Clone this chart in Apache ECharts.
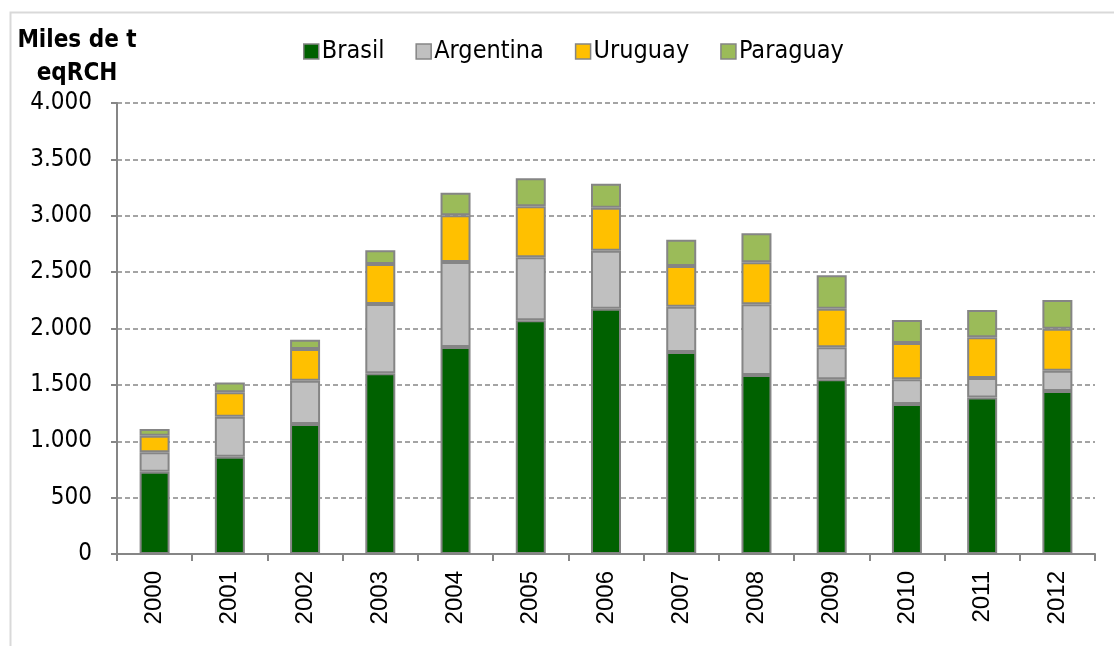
<!DOCTYPE html>
<html>
<head>
<meta charset="utf-8">
<script src="https://cdn.jsdelivr.net/npm/echarts@6/dist/echarts.min.js"></script>
<style>
  html, body { margin: 0; padding: 0; background: #fff; }
  #chart { width: 1114px; height: 646px; }
</style>
</head>
<body>
<div id="chart"></div>
<script>
// años
const years = ['2000', '2001', '2002', '2003', '2004', '2005', '2006', '2007', '2008', '2009', '2010', '2011', '2012']
// miles de t eqRCH por país
const brasil = [730, 863, 1153, 1603, 1836, 2073, 2176, 1792, 1588, 1549, 1330, 1387, 1446]
const argentina = [172, 355, 384, 614, 754, 558, 514, 402, 627, 284, 219, 174, 180]
const uruguay = [147, 216, 281, 355, 414, 453, 381, 360, 372, 343, 322, 361, 372]
const paraguay = [60, 86, 83, 121, 201, 248, 213, 234, 257, 296, 204, 242, 255]
const yTicks = [0, 500, 1000, 1500, 2000, 2500, 3000, 3500, 4000]

// colores
const gridColor = '#868686'
const edgeColor = '#858585'
const colors = { Brasil: '#006100', Argentina: '#c0c0c0', Uruguay: '#ffc000', Paraguay: '#9bbb59' }

const labelFont = '"DejaVu Sans Condensed", "DejaVu Sans", sans-serif'
const fmt = v => v >= 1000 ? Math.floor(v / 1000) + '.' + String(v % 1000).padStart(3, '0') : String(v)

const chart = echarts.init(document.getElementById('chart'))

function makeSeries(name, data) {
  return {
    name: name,
    type: 'bar',
    stack: 'total',
    barWidth: 30,
    data: data,
    itemStyle: { color: colors[name], borderColor: edgeColor, borderWidth: 2 },
    emphasis: { disabled: true }
  }
}

chart.setOption({
  animation: false,
  title: {
    text: 'Miles de t\neqRCH',
    left: 72,
    top: 19,
    textAlign: 'center',
    textStyle: {
      fontFamily: labelFont,
      fontWeight: 'bold',
      fontSize: 24,
      lineHeight: 33,
      color: '#000'
    }
  },
  legend: {
    left: 298,
    top: 34,
    itemWidth: 15,
    itemHeight: 15,
    itemGap: 31,
    icon: 'rect',
    itemStyle: { borderColor: edgeColor, borderWidth: 1.5 },
    textStyle: { fontFamily: labelFont, fontSize: 25, color: '#000', padding: [0, 0, 0, -2] },
    data: ['Brasil', 'Argentina', 'Uruguay', 'Paraguay']
  },
  graphic: [{
    type: 'rect',
    left: 8,
    top: 10,
    shape: { width: 1200, height: 700 },
    style: { fill: 'none', stroke: '#d9d9d9', lineWidth: 2 },
    silent: true,
    z: -10
  }],
  grid: { left: 117, right: 19, top: 103, bottom: 92 },
  xAxis: {
    type: 'category',
    data: years,
    axisLine: { lineStyle: { color: gridColor, width: 2 } },
    axisTick: { show: true, length: 7, lineStyle: { color: gridColor, width: 2 } },
    axisLabel: {
      rotate: 90,
      margin: 17,
      fontFamily: '"Liberation Sans", Arial, sans-serif',
      fontSize: 24,
      color: '#000'
    }
  },
  yAxis: {
    type: 'value',
    min: yTicks[0],
    max: yTicks[yTicks.length - 1],
    interval: yTicks[1] - yTicks[0],
    axisLine: { show: true, lineStyle: { color: gridColor, width: 2 } },
    axisTick: { show: true, length: 6, lineStyle: { color: gridColor, width: 2 } },
    axisLabel: {
      margin: 25,
      fontFamily: labelFont,
      fontSize: 24,
      color: '#000',
      formatter: fmt
    },
    splitLine: { lineStyle: { color: gridColor, width: 1.5, type: [5, 3] } }
  },
  series: [
    makeSeries('Brasil', brasil),
    makeSeries('Argentina', argentina),
    makeSeries('Uruguay', uruguay),
    makeSeries('Paraguay', paraguay)
  ]
})
</script>
</body>
</html>
